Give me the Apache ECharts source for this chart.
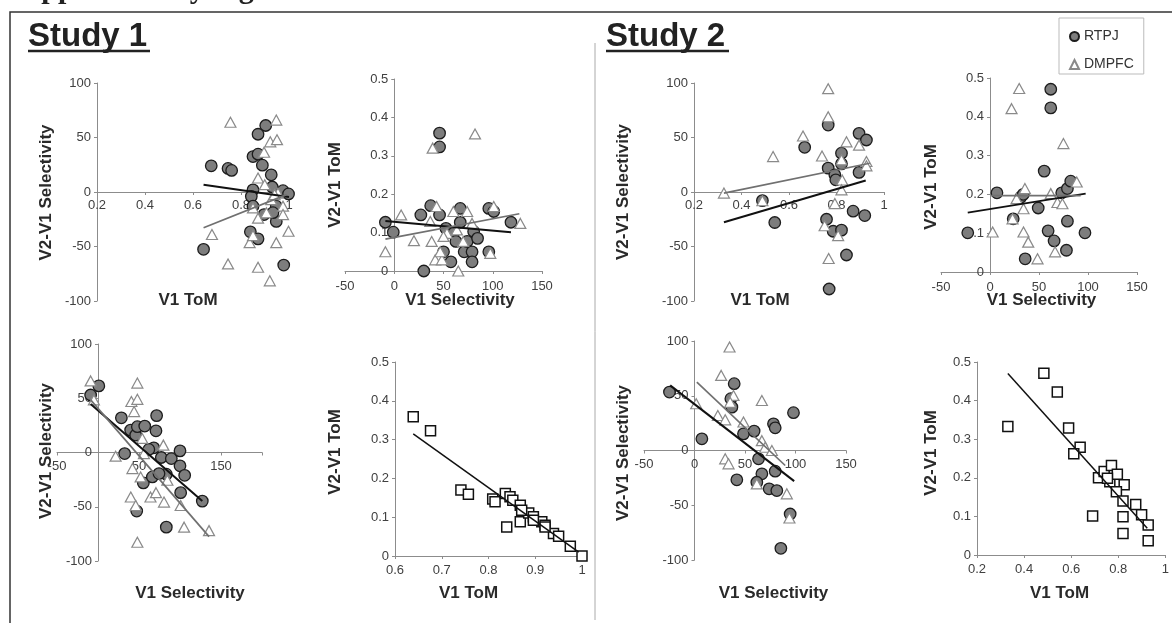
<!DOCTYPE html>
<html><head><meta charset="utf-8">
<script src="https://cdn.jsdelivr.net/npm/echarts@6/dist/echarts.min.js"></script>
<style>html,body{margin:0;padding:0;background:#fff}#c{width:1172px;height:623px}</style>
</head><body><div id="c"></div>
<script>
// ---------- tick labels ----------
const tomTicks = [0.2, 0.4, 0.6, 0.8, 1];
const tomTicksS1 = [0.6, 0.7, 0.8, 0.9, 1];
const selTicksY = [-100, -50, 0, 50, 100];
const selTicksX = [-50, 0, 50, 100, 150];
const s1SelAxisStops = [-50, 0, 50, 100, 150, 200];
const s1SelLabels = [-50, 50, 150];
const diffTomTicks = [0, 0.1, 0.2, 0.3, 0.4, 0.5];
const legendNames = ['RTPJ', 'DMPFC'];

// ---------- Study 1: V1 ToM vs V2-V1 Selectivity ----------
const s1a_rtpj = [[0.644,-52.6],[0.676,24],[0.746,21.6],[0.761,19.8],[0.871,53],[0.903,61],[0.85,32.5],[0.871,34.7],[0.889,24.6],[0.926,15.8],[0.93,4.6],[0.85,2],[0.843,-4],[0.85,-13],[0.947,-13],[0.975,1.2],[0.998,-1.8],[0.947,-27],[0.839,-36.5],[0.871,-43],[0.978,-67],[0.896,-20.7],[0.933,-19]];
const s1a_dmpfc = [[0.756,64],[0.947,66],[0.922,46],[0.95,48],[0.896,36.5],[0.871,12.8],[0.899,6.7],[0.954,-1],[0.679,-39],[0.836,-46.5],[0.85,-40],[0.746,-66],[0.871,-69],[0.92,-81.5],[0.947,-46.5],[0.998,-36],[0.871,-24],[0.906,-19],[0.975,-13],[0.975,-20.7],[0.85,-14.6],[0.926,-7],[0.94,-2.4]];
const s1a_rtpjFit = [[0.644,6.7],[1.0,-4.6]];
const s1a_dmpfcFit = [[0.644,-32.8],[0.99,-2.4]];

// ---------- Study 1: V1 Selectivity vs V2-V1 ToM ----------
const s1b_rtpj = [[-9,0.127],[-1,0.101],[46,0.359],[46,0.323],[37,0.17],[27,0.146],[46,0.146],[67,0.163],[67,0.127],[52.5,0.111],[60,0.098],[62.6,0.077],[50,0.05],[57.5,0.024],[30,0],[71,0.05],[74,0.077],[79,0.05],[79,0.024],[80.6,0.103],[84.6,0.085],[96,0.163],[101,0.155],[96,0.05],[118.5,0.127]];
const s1b_dmpfc = [[-9,0.05],[7,0.146],[20,0.079],[39,0.32],[82,0.357],[36.6,0.129],[38,0.077],[43,0.168],[41.6,0.029],[48.4,0.029],[46.7,0.05],[60,0.155],[74,0.155],[65,0],[53.5,0.098],[70,0.077],[79,0.124],[101,0.168],[97.5,0.046],[128,0.124],[50,0.09],[63.6,0.107]];
const s1b_rtpjFit = [[-9,0.13],[118.5,0.101]];
const s1b_dmpfcFit = [[-9,0.083],[127,0.149]];

// ---------- Study 1: V1 Selectivity vs V2-V1 Selectivity ----------
const s1c_rtpj = [[-9,53],[1,61.4],[28.5,32],[32.5,-1],[39.8,20.7],[46,16],[48,23.8],[57,24.4],[71.5,34],[70.7,20],[68,4.3],[62,2.8],[55.3,-28],[66.3,-22.5],[47.2,-54],[77.2,-4.6],[89.4,-5.6],[100,1.5],[100,-12.3],[105.7,-21],[100.8,-37],[127.2,-44.8],[83.3,-68.8],[83.3,-20],[74.4,-19.4]];
const s1c_dmpfc = [[-9,66],[-5,48.5],[21.5,-3.4],[40.7,47],[44,37.7],[48,64],[48,49],[54,13],[56,-1],[42,-14.8],[40,-41],[46,-48.8],[48,-82.7],[52,-22.5],[64,-41],[70.7,-37],[79.7,6.8],[80.5,-45.7],[84.6,-25.6],[100.8,-48.8],[105,-68.8],[135.4,-72]];
const s1c_rtpjFit = [[-9,44.8],[127.2,-44.8]];
const s1c_dmpfcFit = [[-9,48.5],[135.4,-77.5]];

// ---------- Study 1: V1 ToM vs V2-V1 ToM ----------
const s1d_tom = [[0.639,0.359],[0.676,0.323],[0.741,0.17],[0.757,0.159],[0.809,0.147],[0.814,0.14],[0.836,0.161],[0.846,0.153],[0.852,0.144],[0.839,0.075],[0.868,0.131],[0.868,0.088],[0.886,0.111],[0.896,0.101],[0.914,0.088],[0.921,0.079],[0.939,0.058],[0.95,0.051],[0.975,0.025],[1.0,0.0],[0.921,0.075],[0.896,0.092],[0.871,0.118]];
const s1d_fit = [[0.639,0.315],[0.993,0.01]];

// ---------- Study 2: V1 ToM vs V2-V1 Selectivity ----------
const s2a_rtpj = [[0.488,-7.9],[0.54,-28],[0.666,41],[0.765,61.4],[0.758,-25],[0.786,-36],[0.765,21.9],[0.793,15.8],[0.797,11.2],[0.821,35.6],[0.821,25.8],[0.821,-35],[0.842,-57.8],[0.769,-89],[0.87,-17.6],[0.919,-21.6],[0.895,18],[0.895,53.8],[0.926,47.7]];
const s2a_dmpfc = [[0.326,-1],[0.488,-8],[0.533,32.5],[0.659,51.4],[0.765,94.8],[0.765,69],[0.739,33],[0.75,-31],[0.807,-40],[0.767,-61],[0.793,-10.6],[0.821,29.5],[0.842,46],[0.824,11],[0.821,2],[0.895,43],[0.926,28],[0.926,24]];
const s2a_rtpjFit = [[0.326,-27.7],[0.923,10.6]];
const s2a_dmpfcFit = [[0.326,-1],[0.94,26.4]];

// ---------- Study 2: V1 Selectivity vs V2-V1 ToM ----------
const s2b_rtpj = [[-22.7,0.101],[7.1,0.204],[23.7,0.137],[35.9,0.034],[31.5,0.193],[33.9,0.2],[49.2,0.165],[55.3,0.26],[62,0.471],[62,0.423],[59.3,0.106],[65.4,0.08],[73.2,0.204],[79,0.215],[82.4,0.234],[79,0.131],[78,0.056],[96.9,0.101]];
const s2b_dmpfc = [[2.7,0.103],[23,0.137],[29.8,0.473],[22,0.421],[27.1,0.189],[35.6,0.215],[34.2,0.163],[34.2,0.103],[39,0.077],[48.5,0.034],[62,0.202],[68.8,0.179],[66.4,0.052],[74.9,0.331],[88.5,0.232],[73.9,0.176]];
const s2b_rtpjFit = [[-22.7,0.153],[97.6,0.202]];
const s2b_dmpfcFit = [[1,0.197],[92.5,0.197]];

// ---------- Study 2: V1 Selectivity vs V2-V1 Selectivity ----------
const s2c_rtpj = [[-24.8,53.4],[7.3,10.7],[39.3,61],[36,47.3],[37,39.6],[48.5,15.2],[59,17.7],[63.4,-7.6],[66.7,-21.3],[41.9,-26.8],[61.7,-29],[73.9,-35],[81.5,-36.6],[79.9,-18.9],[78.2,24.4],[79.9,20.7],[98,34.5],[94.7,-58],[85.5,-89.3]];
const s2c_dmpfc = [[34.7,94.5],[26.4,68.6],[1.7,42.7],[23.1,32],[38.6,50.3],[30.4,28],[48.5,26],[66.7,45.7],[66.7,9],[70,3],[76.6,0],[30.4,-7.6],[33.7,-12.2],[61.7,-30.5],[91.4,-39.6],[94,-61.6],[35.3,44]];
const s2c_rtpjFit = [[-24.1,59.5],[98.7,-28]];
const s2c_dmpfcFit = [[2.3,62.5],[89.8,-13.7]];

// ---------- Study 2: V1 ToM vs V2-V1 ToM ----------
const s2d_tom = [[0.331,0.333],[0.484,0.471],[0.541,0.422],[0.589,0.329],[0.638,0.279],[0.611,0.262],[0.716,0.2],[0.691,0.101],[0.74,0.216],[0.771,0.232],[0.764,0.19],[0.796,0.209],[0.825,0.182],[0.792,0.164],[0.82,0.14],[0.82,0.099],[0.82,0.056],[0.874,0.131],[0.899,0.104],[0.927,0.078],[0.927,0.037],[0.754,0.199]];
const s2d_fit = [[0.331,0.47],[0.923,0.069]];

// ---------- build ----------
const FONT = '"Liberation Sans", Arial, sans-serif';
const AX = '#8c8c8c';

const grids = [
  { left: 97, top: 83, width: 192, height: 218 },
  { left: 345, top: 79, width: 197, height: 192 },
  { left: 57, top: 344, width: 205, height: 217 },
  { left: 395, top: 362, width: 187, height: 194 },
  { left: 694, top: 83, width: 190, height: 218 },
  { left: 941, top: 78, width: 196, height: 194 },
  { left: 644, top: 341, width: 202, height: 219 },
  { left: 977, top: 362, width: 190, height: 193 }
];
const panelX = [tomTicks, selTicksX, s1SelAxisStops, tomTicksS1, tomTicks, selTicksX, selTicksX, tomTicks];
const panelY = [selTicksY, diffTomTicks, selTicksY, diffTomTicks, selTicksY, diffTomTicks, selTicksY, diffTomTicks];

// where the value 0 of the other axis sits, as a fraction of the extent (0 if outside)
function zeroFrac(ticks) {
  const mn = ticks[0], mx = ticks[ticks.length - 1];
  return (mn < 0 && mx > 0) ? (0 - mn) / (mx - mn) : 0;
}

function mkAxis(gi, ticks, offset, extra) {
  const ax = {
    type: 'value', gridIndex: gi,
    min: ticks[0], max: ticks[ticks.length - 1],
    interval: +(ticks[1] - ticks[0]).toFixed(6),
    offset: offset,
    axisLine: { onZero: false, lineStyle: { color: AX, width: 1 } },
    axisTick: { show: true, length: 3, lineStyle: { color: AX } },
    splitLine: { show: false },
    axisLabel: { color: '#404040', fontSize: 13, fontFamily: FONT, margin: 6 }
  };
  if (extra && extra.formatter) ax.axisLabel.formatter = extra.formatter;
  if (extra && extra.margin != null) ax.axisLabel.margin = extra.margin;
  return ax;
}

const s1Fmt = v => (s1SelLabels.indexOf(v) >= 0 ? String(v) : '');
const xExtra = [{ margin: 7 }, { margin: 9 }, { formatter: s1Fmt, margin: 7 }, { margin: 8 }, { margin: 7 }, { margin: 9 }, { margin: 7 }, { margin: 8 }];
const xAxes = grids.map((g, i) => mkAxis(i, panelX[i], -g.height * zeroFrac(panelY[i]), xExtra[i]));
const yAxes = grids.map((g, i) => mkAxis(i, panelY[i], -g.width * zeroFrac(panelX[i]), { margin: 6 }));

function circles(i, data) {
  return { type: 'scatter', name: 'RTPJ', xAxisIndex: i, yAxisIndex: i, data, symbol: 'circle', symbolSize: 11.5,
    itemStyle: { color: '#7d7d7d', borderColor: '#1c1c1c', borderWidth: 1.3, opacity: 1 }, z: 2, clip: false, silent: true };
}
function triangles(i, data) {
  return { type: 'scatter', name: 'DMPFC', xAxisIndex: i, yAxisIndex: i, data, symbol: 'triangle', symbolSize: [11, 10],
    itemStyle: { color: '#ffffff', borderColor: '#8a8a8a', borderWidth: 1.2, opacity: 1 }, z: 3, clip: false, silent: true };
}
function squares(i, data) {
  return { type: 'scatter', name: 'V1 ToM', xAxisIndex: i, yAxisIndex: i, data, symbol: 'rect', symbolSize: 10,
    itemStyle: { color: '#ffffff', borderColor: '#111111', borderWidth: 1.5, opacity: 1 }, z: 3, clip: false, silent: true };
}
function fit(i, data, color, width, name) {
  return { type: 'line', name, xAxisIndex: i, yAxisIndex: i, data, symbol: 'none', showSymbol: false,
    lineStyle: { color, width }, z: 4, clip: false, silent: true };
}

const series = [
  circles(0, s1a_rtpj), triangles(0, s1a_dmpfc), fit(0, s1a_rtpjFit, '#111', 2, 'RTPJ fit'), fit(0, s1a_dmpfcFit, '#707070', 1.7, 'DMPFC fit'),
  circles(1, s1b_rtpj), triangles(1, s1b_dmpfc), fit(1, s1b_rtpjFit, '#111', 2, 'RTPJ fit'), fit(1, s1b_dmpfcFit, '#707070', 1.7, 'DMPFC fit'),
  circles(2, s1c_rtpj), triangles(2, s1c_dmpfc), fit(2, s1c_rtpjFit, '#111', 2, 'RTPJ fit'), fit(2, s1c_dmpfcFit, '#707070', 1.7, 'DMPFC fit'),
  squares(3, s1d_tom), fit(3, s1d_fit, '#111', 1.5, 'fit'),
  circles(4, s2a_rtpj), triangles(4, s2a_dmpfc), fit(4, s2a_rtpjFit, '#111', 2, 'RTPJ fit'), fit(4, s2a_dmpfcFit, '#707070', 1.7, 'DMPFC fit'),
  circles(5, s2b_rtpj), triangles(5, s2b_dmpfc), fit(5, s2b_rtpjFit, '#111', 2, 'RTPJ fit'), fit(5, s2b_dmpfcFit, '#707070', 1.7, 'DMPFC fit'),
  circles(6, s2c_rtpj), triangles(6, s2c_dmpfc), fit(6, s2c_rtpjFit, '#111', 2, 'RTPJ fit'), fit(6, s2c_dmpfcFit, '#707070', 1.7, 'DMPFC fit'),
  squares(7, s2d_tom), fit(7, s2d_fit, '#111', 1.5, 'fit')
];

function title(text, x, y, vertical) {
  return { type: 'text', x, y, rotation: vertical ? Math.PI / 2 : 0, silent: true, z: 10,
    style: { text, x: 0, y: 0, fontFamily: FONT, fontSize: 17, fontWeight: 'bold', fill: '#2a2a2a', align: 'center', verticalAlign: 'middle' } };
}
const graphics = [
  { type: 'rect', shape: { x: 10, y: 12, width: 1200, height: 700 }, style: { fill: 'none', stroke: '#333', lineWidth: 1.5 }, silent: true },
  { type: 'line', shape: { x1: 595, y1: 43, x2: 595, y2: 620 }, style: { stroke: '#aaa', lineWidth: 1 }, silent: true },
  { type: 'text', x: 8, y: -10, silent: true, style: { text: 'Supplementary Figure 3', fontFamily: '"Liberation Serif", "Times New Roman", serif', fontSize: 30, fontWeight: 'bold', fill: '#222', align: 'left', verticalAlign: 'middle' } },
  { type: 'text', x: 28, y: 36.5, silent: true, style: { text: 'Study 1', fontFamily: FONT, fontSize: 33, fontWeight: 'bold', fill: '#222', align: 'left', verticalAlign: 'middle' } },
  { type: 'line', shape: { x1: 28, y1: 51, x2: 150, y2: 51 }, style: { stroke: '#222', lineWidth: 2.5 }, silent: true },
  { type: 'text', x: 606, y: 36.5, silent: true, style: { text: 'Study 2', fontFamily: FONT, fontSize: 33, fontWeight: 'bold', fill: '#222', align: 'left', verticalAlign: 'middle' } },
  { type: 'line', shape: { x1: 606, y1: 51, x2: 729, y2: 51 }, style: { stroke: '#222', lineWidth: 2.5 }, silent: true },
  title('V1 ToM', 188, 300.5), title('V2-V1 Selectivity', 46.7, 192.5, true),
  title('V1 Selectivity', 460, 300.5), title('V2-V1 ToM', 335, 185, true),
  title('V1 Selectivity', 190, 593.3), title('V2-V1 Selectivity', 46.7, 451, true),
  title('V1 ToM', 468.5, 593.3), title('V2-V1 ToM', 335, 452, true),
  title('V1 ToM', 760, 300.5), title('V2-V1 Selectivity', 623.3, 192, true),
  title('V1 Selectivity', 1041.5, 300.5), title('V2-V1 ToM', 931.7, 187, true),
  title('V1 Selectivity', 773.5, 593.3), title('V2-V1 Selectivity', 623.3, 453, true),
  title('V1 ToM', 1059.5, 593.3), title('V2-V1 ToM', 931.7, 453, true)
];

const chart = echarts.init(document.getElementById('c'), null, { renderer: 'canvas' });
chart.setOption({
  animation: false,
  backgroundColor: '#ffffff',
  grid: grids,
  xAxis: xAxes,
  yAxis: yAxes,
  series,
  legend: {
    data: legendNames, orient: 'vertical', left: 1059, top: 18,
    borderColor: '#bbbbbb', borderWidth: 1, padding: [11, 10, 2, 10], itemGap: 13,
    itemWidth: 9, itemHeight: 9, selectedMode: false,
    textStyle: { fontFamily: FONT, fontSize: 14, color: '#333', lineHeight: 15 }
  },
  graphic: graphics
});
</script>
</body></html>
